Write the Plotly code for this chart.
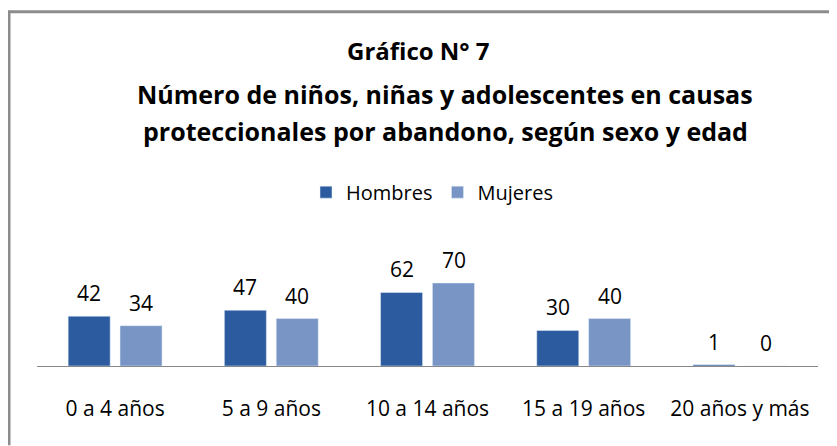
import plotly.graph_objects as go

categories = ["0 a 4 años", "5 a 9 años", "10 a 14 años", "15 a 19 años", "20 años y más"]
hombres = [42, 47, 62, 30, 1]
mujeres = [34, 40, 70, 40, 0]
title_lines = ["Gráfico N° 7",
               "Número de niños, niñas y adolescentes en causas",
               "proteccionales por abandono, según sexo y edad"]

C_H = "#2C5C9F"
C_M = "#7895C6"
FONT = "Open Sans"

# page has an 8px body margin; figure sized to fit the window
OFF = 8
W, H = 837 - OFF, 446 - OFF
L = 37 - OFF
R = W - (818 - OFF)
T = 230 - OFF
B = H - (366.5 - OFF)
PW, PH = W - L - R, H - T - B


def px(x):
    return (x - OFF - L) / PW


def py(y):
    return (H - B - (y - OFF)) / PH


fig = go.Figure()
fig.add_trace(go.Bar(name="Hombres", x=categories, y=hombres, marker=dict(color=C_H)))
fig.add_trace(go.Bar(name="Mujeres", x=categories, y=mujeres, marker=dict(color=C_M)))

annotations = []
for vals, shift in ((hombres, -26), (mujeres, 26)):
    for c, v in zip(categories, vals):
        annotations.append(dict(x=c, y=v, xref="x", yref="y", text=str(v), showarrow=False,
                                xshift=shift, yanchor="bottom", yshift=7,
                                font=dict(family=FONT, size=21, color="#000")))

title_y = [50, 93, 131]
title_x = [418, 445, 445]
title_sizes = [24, 25, 25]
for txt, yy, xx, fs in zip(title_lines, title_y, title_x, title_sizes):
    annotations.append(dict(text="<b>" + txt + "</b>", xref="paper", yref="paper",
                            x=px(xx), y=py(yy),
                            xanchor="center", yanchor="middle", showarrow=False,
                            font=dict(family=FONT, size=fs, color="#000")))

fig.update_layout(
    width=W, height=H,
    margin=dict(l=L, r=R, t=T, b=B, pad=0),
    paper_bgcolor="white", plot_bgcolor="white",
    barmode="group", bargap=0.336, bargroupgap=0.19,
    showlegend=True,
    legend=dict(orientation="h", x=px(432), xanchor="center",
                y=py(192), yanchor="middle",
                font=dict(family=FONT, size=20, color="#000"),
                traceorder="normal"),
    xaxis=dict(showline=True, linecolor="#888888", linewidth=1, ticks="",
               tickfont=dict(family=FONT, size=21, color="#000"),
               ticklabelstandoff=24, range=[-0.5, 4.5]),
    yaxis=dict(visible=False, range=[0, (366.5 - 230) / 1.19], showgrid=False, zeroline=False),
    annotations=annotations,
    shapes=[
        dict(type="line", xref="paper", yref="paper",
             x0=px(6), x1=px(837), y0=py(11), y1=py(11),
             line=dict(color="#8C8C8C", width=3)),
        dict(type="line", xref="paper", yref="paper",
             x0=px(9), x1=px(9), y0=py(10), y1=py(446),
             line=dict(color="#8C8C8C", width=3)),
    ],
    font=dict(family=FONT),
)

fig.write_html("out.html")
